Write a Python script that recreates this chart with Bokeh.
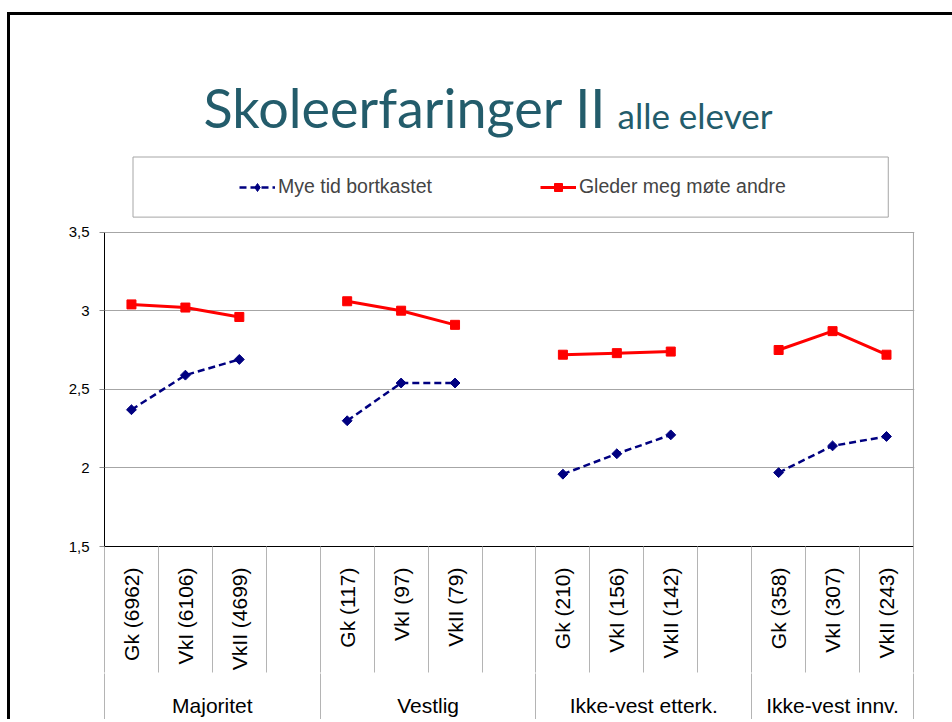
import math
from bokeh.plotting import figure
from bokeh.models import (Range1d, FixedTicker, LinearAxis, Label, Legend,
                          LegendItem)
from bokeh.embed import file_html
from bokeh.resources import INLINE

# ---------------- data ----------------
groups = ["Majoritet", "Vestlig", "Ikke-vest etterk.", "Ikke-vest innv."]
categories = ["Gk (6962)", "VkI (6106)", "VkII (4699)", "",
              "Gk (117)", "VkI (97)", "VkII (79)", "",
              "Gk (210)", "VkI (156)", "VkII (142)", "",
              "Gk (358)", "VkI (307)", "VkII (243)"]
category_group = [0, 0, 0, 0, 1, 1, 1, 1, 2, 2, 2, 2, 3, 3, 3]
mye_tid = [2.37, 2.59, 2.69, None, 2.30, 2.54, 2.54, None,
           1.96, 2.09, 2.21, None, 1.97, 2.14, 2.20]
gleder = [3.04, 3.02, 2.96, None, 3.06, 3.00, 2.91, None,
          2.72, 2.73, 2.74, None, 2.75, 2.87, 2.72]
series_names = ["Mye tid bortkastet", "Gleder meg møte andre"]
y_ticks = [1.5, 2, 2.5, 3, 3.5]
y_tick_labels = ["1,5", "2", "2,5", "3", "3,5"]
title_main = "Skoleerfaringer II"
title_sub = "alle elever"

# ---------------- derived ----------------
n = len(categories)
xs = list(range(n))
nan = float("nan")
y1 = [nan if v is None else v for v in mye_tid]
y2 = [nan if v is None else v for v in gleder]

group_start = [category_group.index(g) for g in range(len(groups))]
group_end = [(group_start[g + 1] - 1) if g + 1 < len(groups) else n - 1
             for g in range(len(groups))]
group_centers = [(s + e) / 2 for s, e in zip(group_start, group_end)]
group_edges = [s - 0.5 for s in group_start] + [n - 0.5]

# ---------------- layout ----------------
W, H = 942, 704
ML, MR, MT, MB = 94, 38, 0, 172
slot_px = 53.93          # pixel width of one category cell
unit_px = 157.5          # pixels per y unit
FW = W - ML - MR
FH = H - MT - MB
x_lo = -0.5
x_hi = x_lo + FW / slot_px
y_lo = y_ticks[0]
y_hi = y_lo + FH / unit_px

p = figure(width=W, height=H, output_backend="svg", toolbar_location=None,
           x_range=Range1d(x_lo, x_hi), y_range=Range1d(y_lo, y_hi),
           min_border_left=ML, min_border_right=MR, min_border_top=MT,
           min_border_bottom=MB, tools="")
# slide frame: black edge on the left and the top of the page
p.margin = (15, 0, 0, 10)
p.styles = {"box-shadow": "0 -3px 0 0 black, -3px 0 0 0 black, -3px -3px 0 0 black"}
p.background_fill_color = "white"
p.border_fill_color = "white"
p.outline_line_color = None
p.xgrid.visible = False
p.ygrid.ticker = FixedTicker(ticks=y_ticks)
p.ygrid.grid_line_color = "#a6a6a6"

# right edge of plot area
p.segment(x0=[n - 0.5], y0=[y_ticks[0]], x1=[n - 0.5], y1=[y_ticks[-1]],
          line_color="#a6a6a6", line_width=1)

# y axis
ya = p.yaxis[0]
ya.ticker = FixedTicker(ticks=y_ticks)
ya.bounds = (y_ticks[0], y_ticks[-1])
ya.major_label_overrides = {t: l for t, l in zip(y_ticks, y_tick_labels)}
ya.axis_line_color = "black"
ya.major_tick_line_color = "#8c8c8c"
ya.major_tick_out = 5
ya.major_tick_in = 0
ya.minor_tick_line_color = None
ya.major_label_standoff = 10
ya.major_label_text_font = "Liberation Sans"
ya.major_label_text_font_size = "15px"
ya.major_label_text_color = "black"

# x axis 1: categories (minor ticks are the cell separators)
xa = p.xaxis[0]
xa.ticker = FixedTicker(ticks=[i for i, c in enumerate(categories) if c],
                        minor_ticks=[i - 0.5 for i in range(n + 1)])
xa.bounds = (-0.5, n - 0.5)
xa.major_label_overrides = {i: c for i, c in enumerate(categories) if c}
xa.axis_line_color = "black"
xa.major_tick_out = 0
xa.major_tick_in = 0
xa.major_tick_line_color = None
xa.minor_tick_out = 126
xa.minor_tick_in = 0
xa.minor_tick_line_color = "#b4b4b4"
xa.major_label_orientation = math.pi / 2
xa.major_label_standoff = -105
xa.major_label_text_font = "Liberation Sans"
xa.major_label_text_font_size = "21px"
xa.major_label_text_color = "black"

# x axis 2: groups
xa2 = LinearAxis(ticker=FixedTicker(ticks=group_centers, minor_ticks=group_edges))
xa2.bounds = (-0.5, n - 0.5)
xa2.major_label_overrides = {c: g for c, g in zip(group_centers, groups)}
xa2.axis_line_color = None
xa2.major_tick_out = 0
xa2.major_tick_in = 0
xa2.major_tick_line_color = None
xa2.minor_tick_out = 80
xa2.minor_tick_in = 0
xa2.minor_tick_line_color = "#b4b4b4"
xa2.major_label_standoff = -60
xa2.major_label_text_font = "Liberation Sans"
xa2.major_label_text_font_size = "21px"
xa2.major_label_text_color = "black"
p.add_layout(xa2, "below")

# series
l1 = p.line(xs, y1, line_color="#000080", line_width=2.5, line_dash="7 4")
s1 = p.scatter(xs, y1, marker="square", size=7, angle=math.pi / 4,
               fill_color="#000080", line_color="#000080")
l2 = p.line(xs, y2, line_color="#ff0000", line_width=3)
s2 = p.scatter(xs, y2, marker="square", size=9, fill_color="#ff0000",
               line_color="#ff0000")
# legend key marker (legend glyphs are drawn unrotated); not plotted
s1_key = p.scatter(x=[nan], y=[nan], marker="diamond", size=12,
                   fill_color="#000080", line_color="#000080")

legend = Legend(items=[LegendItem(label=series_names[0], renderers=[l1, s1_key]),
                       LegendItem(label=series_names[1], renderers=[l2, s2])],
                orientation="horizontal", location=(135, 348),
                padding=0, margin=0, spacing=108, glyph_width=36,
                glyph_height=20, label_standoff=3,
                label_text_font="Liberation Sans", label_text_font_size="19.5px",
                border_line_alpha=0, background_fill_alpha=0)
p.add_layout(legend, "center")

# legend frame (box drawn by an empty label)
p.add_layout(Label(x=28.5, y=389.5, x_units="screen", y_units="screen",
                   text=" ", text_font_size="1px", anchor="top_left",
                   padding=dict(left=0, right=755, top=0, bottom=59),
                   border_line_color="#a6a6a6", border_line_width=1,
                   background_fill_alpha=0))

# title
p.add_layout(Label(x=99, y=439, x_units="screen", y_units="screen",
                   text=title_main, text_font="Lato", text_font_size="54px",
                   text_color="#235C6B", text_baseline="alphabetic"))
p.add_layout(Label(x=513, y=432, x_units="screen", y_units="screen",
                   text=title_sub, text_font="Lato", text_font_size="35px",
                   text_color="#235C6B", text_baseline="alphabetic"))

open("out.html", "w").write(file_html(p, INLINE))
